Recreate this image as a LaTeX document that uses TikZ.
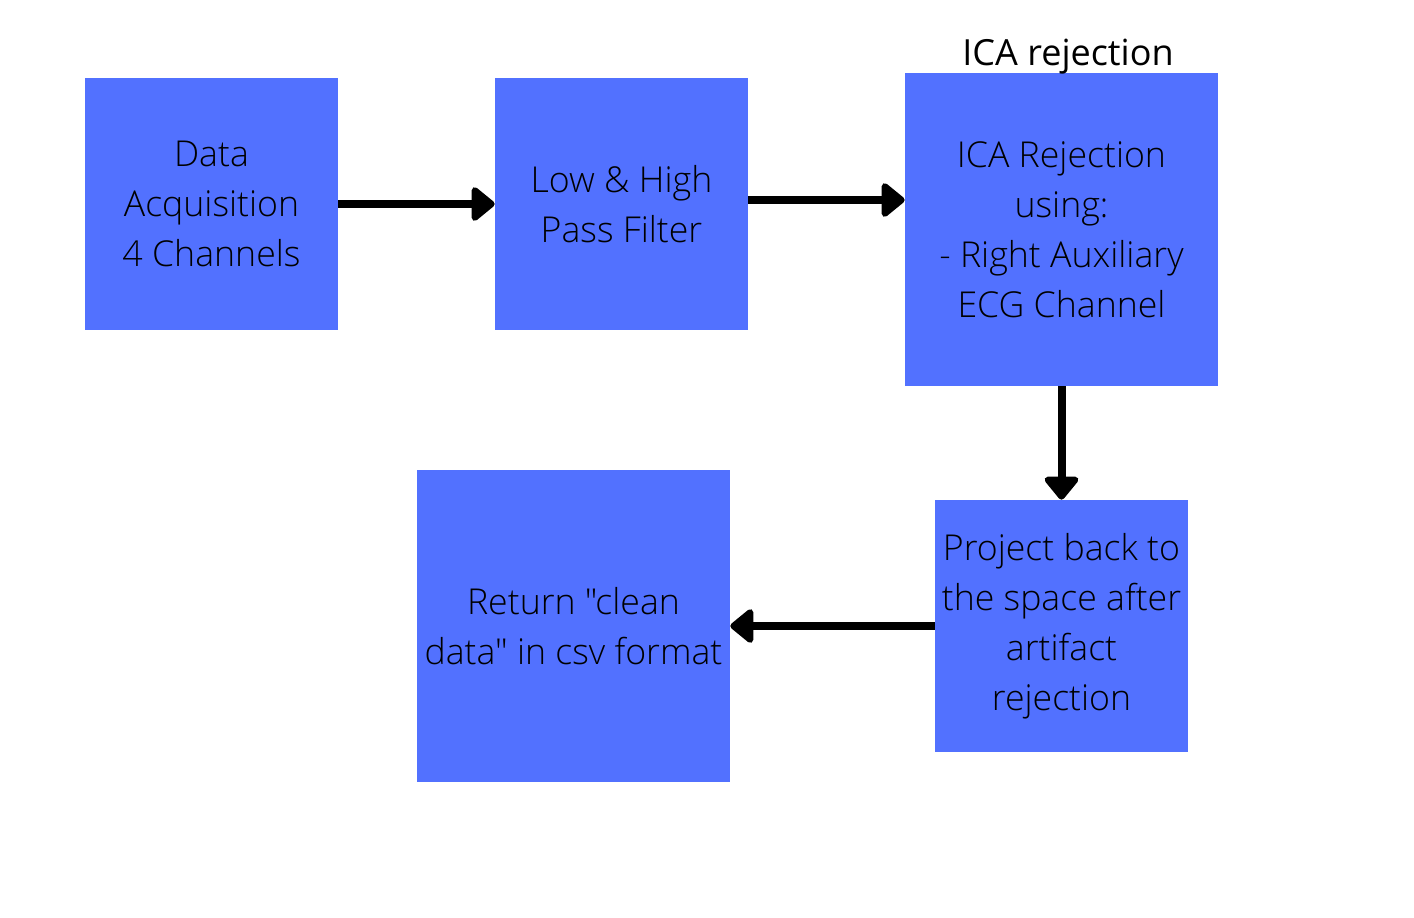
\documentclass[tikz,border=0pt]{standalone}
\usepackage{fontspec}
\setmainfont{Open Sans Light}[Ligatures=TeXOff]
\newfontfamily\titlefont{Open Sans}
\usetikzlibrary{arrows.meta, positioning, calc}
\definecolor{cBoxFill}{RGB}{82, 113, 255}
\tikzset{
    font=\fontsize{20.3pt}{28.4pt}\selectfont,
    procBox/.style={
        rectangle, fill=cBoxFill, draw=none,
        align=center, inner sep=0pt
    },
    smallBox/.style={procBox, minimum width=5.06cm, minimum height=5.04cm},
    bigBox/.style={procBox, minimum width=6.26cm, minimum height=6.26cm},
    flow/.style={
        line width=0.16cm,
        -{Triangle[length=0.5cm, width=0.78cm, round]}
    }
}

\begin{document}
\begin{tikzpicture}[x=0.02cm, y=-0.02cm]
    \useasboundingbox (0,0) rectangle (1414,917);

    % top row
    \node [smallBox] (acq) at (211.5,204) {Data\\Acquisition\\4 Channels};
    \node [smallBox] (filt) at (621.5,204) {Low \& High\\Pass Filter};
    \node [bigBox] (ica) at (1061.5,229.5) {ICA Rejection\\using:\\- Right Auxiliary\\ECG Channel};
    \node [font=\titlefont\fontsize{20.5pt}{24pt}\selectfont] (icaTitle) at (1068,57) {ICA rejection};

    % bottom row
    \node [smallBox] (proj) at (1061.5,626) {Project back to\\the space after\\artifact\\rejection};
    \node [bigBox] (ret) at (573.5,626) {Return "clean\\data" in csv format};

    % arrows
    \draw [flow] (acq.east) -- (filt.west);
    \draw [flow] ([yshift=0.08cm]filt.east) -- ([yshift=0.08cm]filt.east -| ica.west);
    \draw [flow] (ica.south) -- (proj.north);
    \draw [flow] (proj.west) -- (ret.east);
\end{tikzpicture}
\end{document}
